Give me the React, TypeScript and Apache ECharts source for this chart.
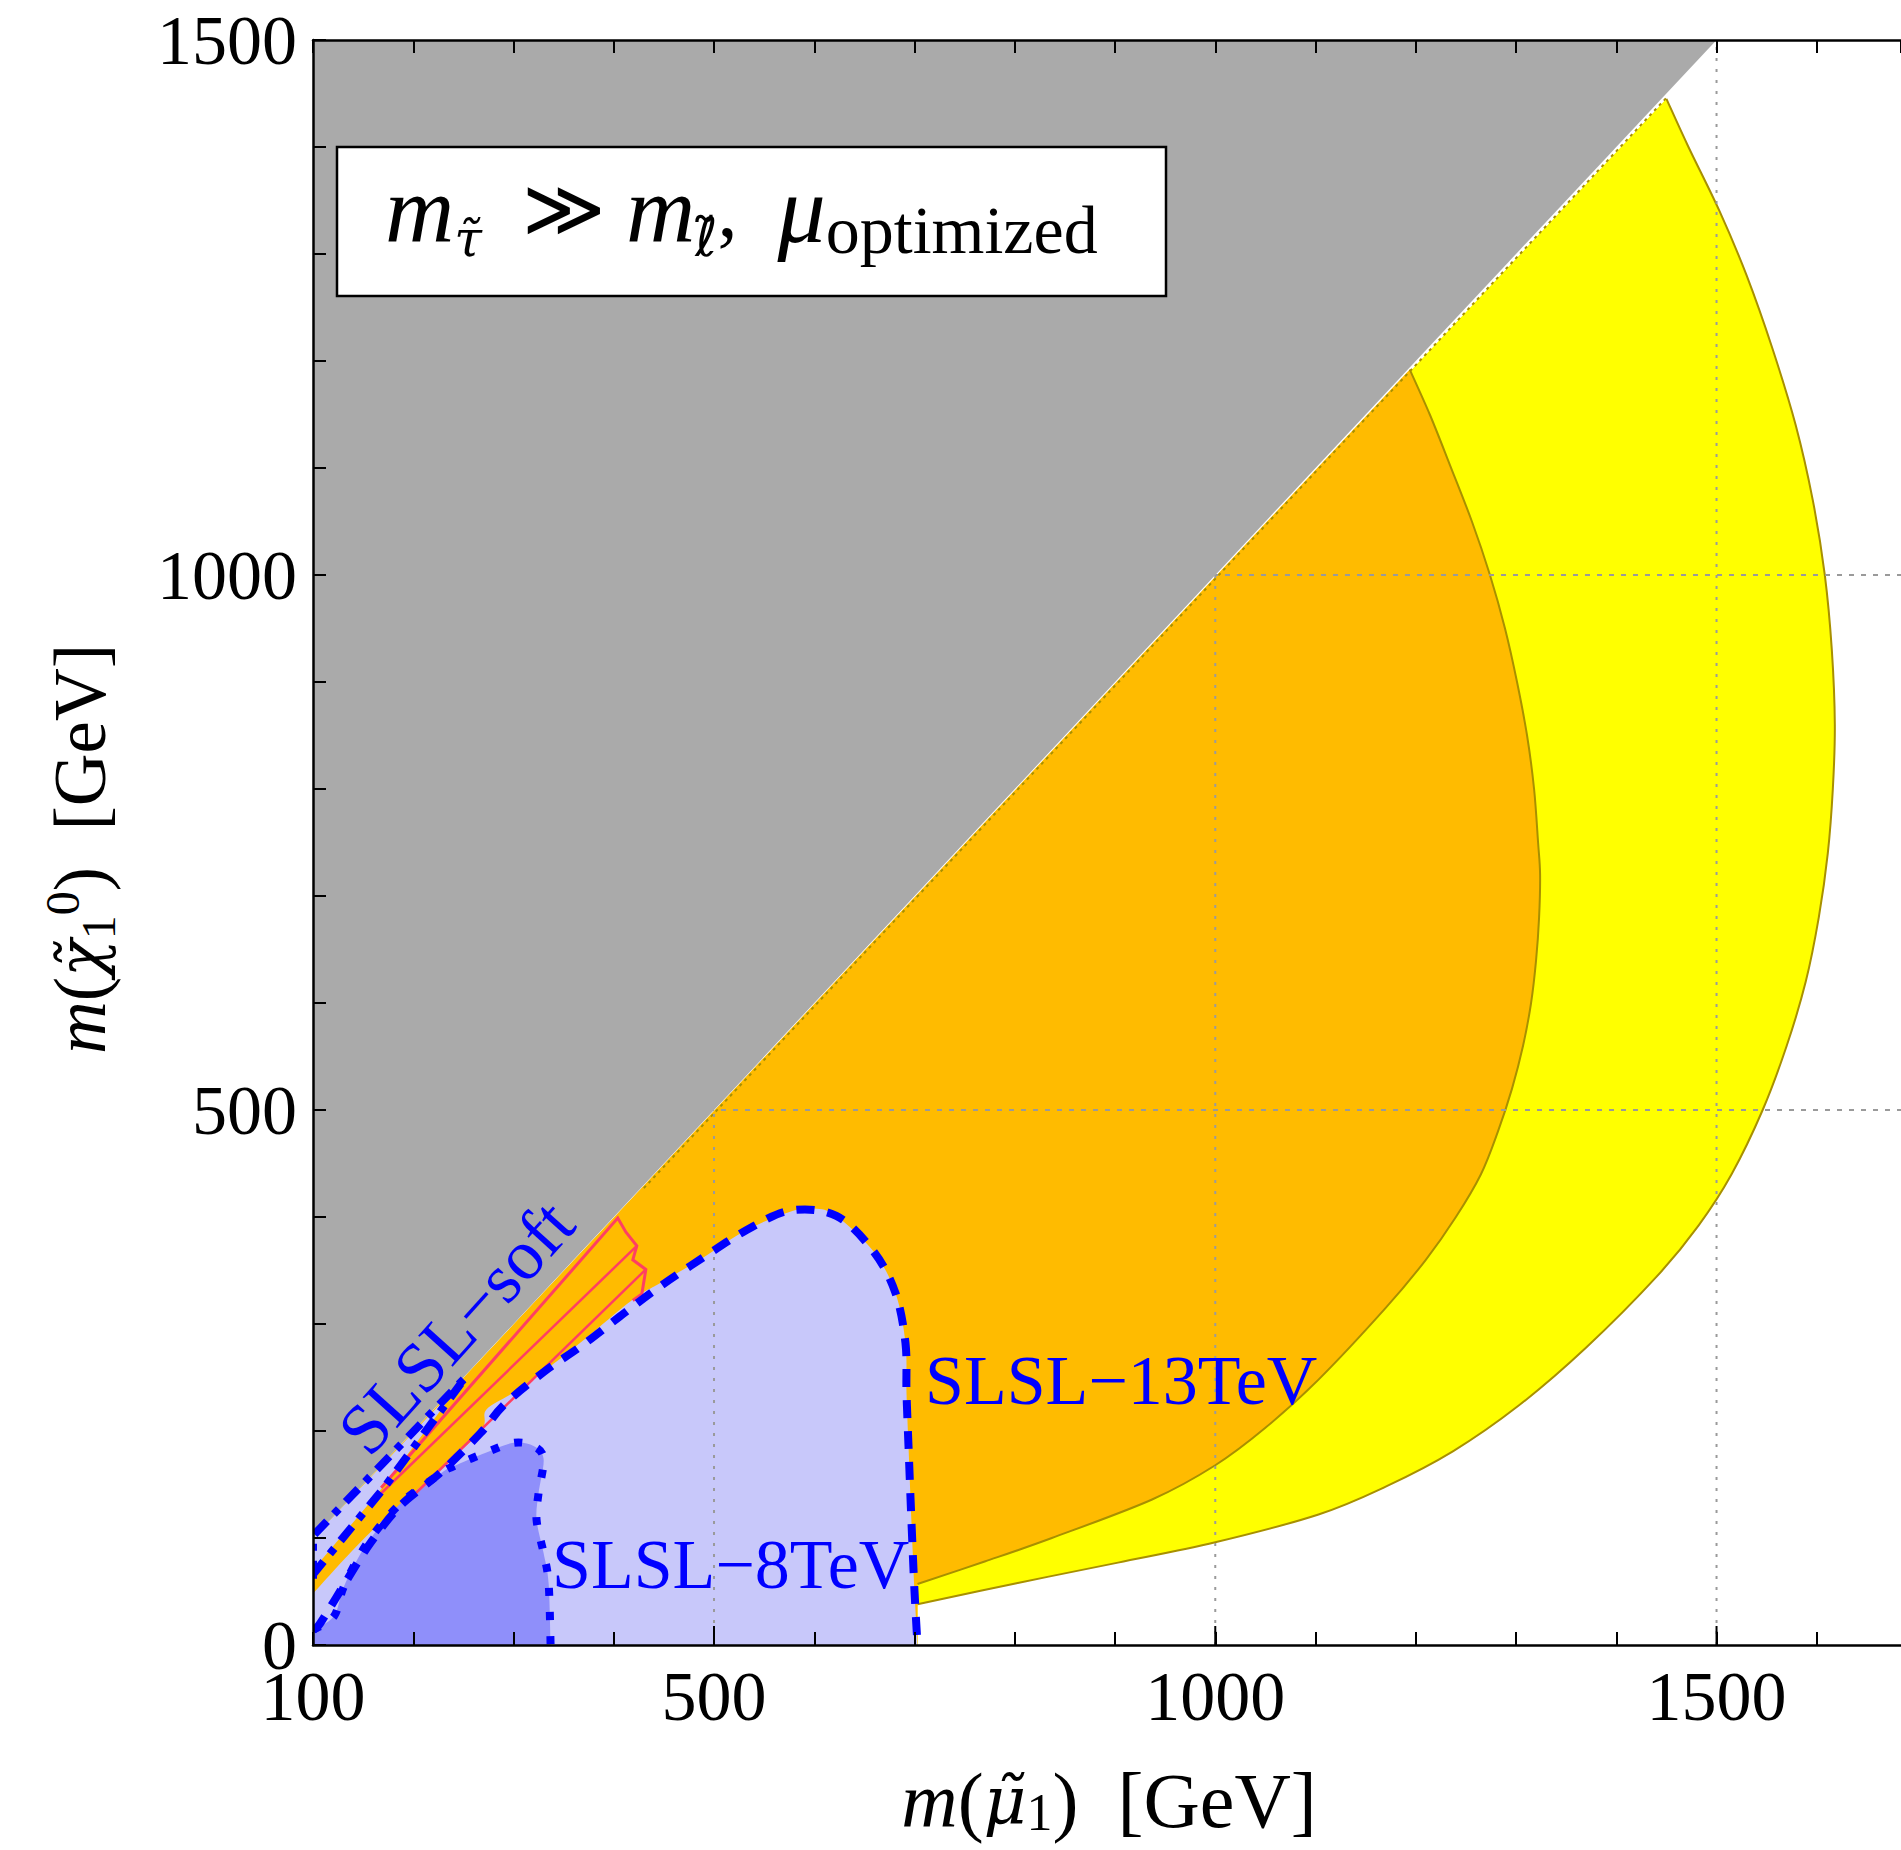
import React, { useEffect, useRef } from "react";
import * as echarts from "echarts";

const FONT = "'Liberation Serif', 'Times New Roman', serif";
const GREEK = "'DejaVu Serif', serif";
const SCRIPT = "'DejaVu Sans', sans-serif";

// axes
const X_MIN = 100;
const X_MAX = 1684;
const Y_MIN = 0;
const Y_MAX = 1500;
const TICK_STEP = 100;
const X_LABELS = [100, 500, 1000, 1500];
const Y_LABELS = [0, 500, 1000, 1500];
const GRID_X = [500, 1000, 1500];
const GRID_Y = [500, 1000];

// kinematically forbidden region m(chi) > m(smuon)
const GRAY_REGION = [[100, 100], [1500, 1500], [100, 1500]];

// outer edge of the yellow band (from diagonal down to the 13 TeV contour)
const YELLOW_ARC = [
  [1450, 1445], [1472, 1400], [1503, 1340], [1530, 1280], [1556, 1211], [1579, 1140],
  [1596, 1070], [1608, 1000], [1615, 930], [1618, 860], [1616, 800], [1611, 740],
  [1602, 680], [1589, 620], [1570, 560], [1546, 500], [1515, 440], [1482, 392],
  [1440, 344], [1370, 278], [1303, 224], [1237, 181], [1170, 148], [1103, 122],
  [1000, 96], [903, 77], [803, 58], [703, 38],
];

// outer edge of the orange band
const ORANGE_ARC = [
  [1194, 1192], [1214, 1150], [1234, 1103], [1256, 1050], [1274, 1000], [1289, 950],
  [1301, 900], [1311, 850], [1318, 800], [1322, 750], [1324, 720], [1323, 680],
  [1320, 640], [1315, 600], [1307, 560], [1296, 520], [1282, 480], [1265, 440],
  [1240, 400], [1210, 360], [1170, 315], [1103, 248], [1050, 203], [1000, 168],
  [937, 136], [837, 100], [770, 78], [703, 57],
];

// SLSL-13TeV excluded region (upper boundary)
const SLSL13_EDGE = [
  [100, 48], [137, 86], [170, 117], [197, 139], [230, 167], [268, 201], [273, 220],
  [300, 236], [336, 260], [370, 285], [419, 323], [446, 338], [489, 362], [533, 388],
  [576, 405], [600, 408], [622, 401], [659, 368], [681, 329], [691, 282], [692, 236],
  [694, 186], [697, 114], [700, 50], [703, 0],
];
const SLSL13_LINE = [
  [100, 15], [107, 20], [134, 61], [157, 95], [187, 130], [227, 161], [267, 198],
  [290, 224], [330, 255], [367, 279], [406, 307], [446, 335], [489, 362], [533, 388],
  [576, 406], [622, 401], [659, 368], [681, 329], [691, 282], [692, 236], [694, 186],
  [697, 114], [700, 50], [703, 0],
];

// SLSL-8TeV excluded region
const SLSL8_EDGE = [
  [100, 14], [121, 27], [131, 55], [154, 95], [187, 132], [227, 160], [240, 167],
  [273, 180], [300, 189], [320, 186], [330, 174], [325, 142], [323, 117], [330, 86],
  [335, 58], [337, 0],
];

// SLSL-soft excluded region (compressed strip near the diagonal)
const SOFT_REGION = [[100, 70], [100, 100], [252, 250], [170, 148]];
const SOFT_LINE = [[100, 62], [100, 102], [252, 250], [170, 146], [100, 66]];

// red hatched strip
const RED_OUTLINE = [
  [168, 147], [404, 399], [412, 386], [423, 373], [419, 360], [432, 351], [428, 328], [419, 322],
];
const RED_MID = [[165, 139], [423, 373]];
const RED_LOW = [[196, 136], [432, 351]];

// diagonal staircase edge of the bands
const BAND_DIAGONAL = [[430, 427], [1450, 1446]];

const C = {
  gray: "#aaaaaa",
  yellow: "#ffff00",
  orange: "#ffbb00",
  olive: "#a89000",
  light: "#c8c8fa",
  dark: "#8f8ffa",
  blue: "#0000ff",
  red: "#ff3f62",
  grid: "#9a9a9a",
};

type Seg = { pts: number[][]; smooth?: boolean };

function catmull(px: number[][]): string {
  let d = "";
  for (let i = 0; i < px.length - 1; i++) {
    const p0 = px[Math.max(i - 1, 0)];
    const p1 = px[i];
    const p2 = px[i + 1];
    const p3 = px[Math.min(i + 2, px.length - 1)];
    const c1x = p1[0] + (p2[0] - p0[0]) / 6;
    const c1y = p1[1] + (p2[1] - p0[1]) / 6;
    const c2x = p2[0] - (p3[0] - p1[0]) / 6;
    const c2y = p2[1] - (p3[1] - p1[1]) / 6;
    d += ` C ${c1x} ${c1y} ${c2x} ${c2y} ${p2[0]} ${p2[1]}`;
  }
  return d;
}

function buildPath(api: any, segs: Seg[], closed: boolean): string {
  let d = "";
  let first = true;
  for (const seg of segs) {
    const px = seg.pts.map((p) => api.coord(p));
    d += first ? `M ${px[0][0]} ${px[0][1]}` : ` L ${px[0][0]} ${px[0][1]}`;
    first = false;
    if (seg.smooth) d += catmull(px);
    else for (let i = 1; i < px.length; i++) d += ` L ${px[i][0]} ${px[i][1]}`;
  }
  if (closed) d += " Z";
  return d;
}

function pathSeries(name: string, segs: Seg[], style: any, closed: boolean) {
  return {
    type: "custom",
    name,
    silent: true,
    clip: true,
    coordinateSystem: "cartesian2d",
    data: [[segs[0].pts[0][0], segs[0].pts[0][1]]],
    renderItem: (_p: any, api: any) => ({
      type: "path",
      shape: { pathData: buildPath(api, segs, closed) },
      style: closed ? style : { fill: "none", ...style },
    }),
  };
}

export default function App() {
  const ref = useRef<HTMLDivElement>(null);
  useEffect(() => {
    const chart = echarts.init(ref.current!, null, { renderer: "svg" });
    const axisCommon = {
      type: "value",
      z: 10,
      axisLine: { show: true, onZero: false, lineStyle: { color: "#000", width: 2.5 } },
      axisTick: { show: true, inside: true, length: 13, lineStyle: { color: "#000", width: 2 } },
      splitLine: { show: false },
    };
    const option: any = {
      animation: false,
      backgroundColor: "#ffffff",
      grid: { left: 313, top: 40, right: 0, bottom: 205, containLabel: false },
      xAxis: [
        {
          ...axisCommon,
          min: X_MIN,
          max: X_MAX,
          interval: TICK_STEP,
          position: "bottom",
          axisLabel: {
            show: true,
            margin: 26,
            color: "#000",
            fontFamily: FONT,
            fontSize: 70,
            lineHeight: 50,
            showMinLabel: true,
            showMaxLabel: false,
            formatter: (v: number) => (X_LABELS.includes(Math.round(v)) ? String(Math.round(v)) : ""),
          },
        },
        {
          ...axisCommon,
          min: X_MIN,
          max: X_MAX,
          interval: TICK_STEP,
          position: "top",
          axisLabel: { show: false },
        },
      ],
      yAxis: [
        {
          ...axisCommon,
          min: Y_MIN,
          max: Y_MAX,
          interval: TICK_STEP,
          position: "left",
          axisLabel: {
            show: true,
            margin: 16,
            color: "#000",
            fontFamily: FONT,
            fontSize: 70,
            lineHeight: 50,
            formatter: (v: number) => (Y_LABELS.includes(Math.round(v)) ? String(Math.round(v)) : ""),
          },
        },
      ],
      series: [
        pathSeries("yellow", [{ pts: [[100, 100]] }, { pts: YELLOW_ARC, smooth: true }, { pts: [[703, 0], [100, 0]] }], { fill: C.yellow }, true),
        pathSeries("orange", [{ pts: [[100, 100]] }, { pts: ORANGE_ARC, smooth: true }, { pts: [[703, 0], [100, 0]] }], { fill: C.orange }, true),
        pathSeries("yellowEdge", [{ pts: YELLOW_ARC, smooth: true }], { stroke: C.olive, lineWidth: 2 }, false),
        pathSeries("orangeEdge", [{ pts: ORANGE_ARC, smooth: true }], { stroke: C.olive, lineWidth: 2 }, false),
        pathSeries("diagEdge", [{ pts: BAND_DIAGONAL }], { stroke: C.olive, lineWidth: 2, lineDash: [3, 4] }, false),
        pathSeries("slsl13", [{ pts: [[100, 0]] }, { pts: SLSL13_EDGE, smooth: true }], { fill: C.light }, true),
        pathSeries("soft", [{ pts: SOFT_REGION }], { fill: C.light }, true),
        pathSeries("slsl8", [{ pts: [[100, 0]] }, { pts: SLSL8_EDGE, smooth: true }], { fill: C.dark }, true),
        pathSeries("redOutline", [{ pts: RED_OUTLINE }], { stroke: C.red, lineWidth: 3 }, false),
        pathSeries("redMid", [{ pts: RED_MID }], { stroke: C.red, lineWidth: 2.5 }, false),
        pathSeries("redLow", [{ pts: RED_LOW }], { stroke: C.red, lineWidth: 2.5 }, false),
        {
          type: "custom",
          name: "gridlines",
          silent: true,
          clip: true,
          coordinateSystem: "cartesian2d",
          data: [[X_MIN, Y_MIN]],
          renderItem: (_p: any, api: any) => ({
            type: "group",
            children: [
              ...GRID_X.map((x) => {
                const a = api.coord([x, Y_MIN]);
                const b = api.coord([x, Y_MAX]);
                return {
                  type: "line",
                  shape: { x1: a[0], y1: a[1], x2: b[0], y2: b[1] },
                  style: { stroke: C.grid, lineWidth: 2, lineDash: [3, 8] },
                };
              }),
              ...GRID_Y.map((y) => {
                const a = api.coord([X_MIN, y]);
                const b = api.coord([X_MAX, y]);
                return {
                  type: "line",
                  shape: { x1: a[0], y1: a[1], x2: b[0], y2: b[1] },
                  style: { stroke: C.grid, lineWidth: 2, lineDash: [5, 7] },
                };
              }),
            ],
          }),
        },
        pathSeries("gray", [{ pts: GRAY_REGION }], { fill: C.gray }, true),
        pathSeries("slsl13Line", [{ pts: SLSL13_LINE, smooth: true }], { stroke: C.blue, lineWidth: 8, lineDash: [18, 13] }, false),
        pathSeries("slsl8Line", [{ pts: SLSL8_EDGE, smooth: true }], { stroke: C.blue, lineWidth: 8, lineDash: [8, 16] }, false),
        pathSeries("softLine", [{ pts: SOFT_LINE }], { stroke: C.blue, lineWidth: 8, lineDash: [18, 10, 7, 10] }, false),
        {
          type: "custom",
          name: "majorTicks",
          silent: true,
          clip: false,
          z: 11,
          coordinateSystem: "cartesian2d",
          data: [[X_MIN, Y_MIN]],
          renderItem: (_p: any, api: any) => ({
            type: "group",
            children: GRID_X.map((x) => {
              const a = api.coord([x, Y_MIN]);
              return {
                type: "line",
                shape: { x1: a[0], y1: a[1], x2: a[0], y2: a[1] - 19 },
                style: { stroke: "#000", lineWidth: 2 },
              };
            }),
          }),
        },
      ],
      graphic: [
        {
          type: "rect",
          shape: { x: 337, y: 147, width: 829, height: 149 },
          style: { fill: "#fff", stroke: "#000", lineWidth: 2.5 },
          z: 100,
        },
        {
          type: "text",
          x: 385,
          y: 209,
          z: 101,
          style: {
            text: "{m|m}{sub|τ̃}{op|  ≫ }{m|m}{scr|ℓ̃}{op|,  }{m|μ}{opt|optimized}",
            textVerticalAlign: "middle",
            rich: {
              m: { fontFamily: FONT, fontStyle: "italic", fontSize: 96, lineHeight: 110, fill: "#000" },
              op: { fontFamily: FONT, fontSize: 80, lineHeight: 110, fill: "#000" },
              sub: { fontFamily: GREEK, fontStyle: "italic", fontSize: 50, lineHeight: 70, verticalAlign: "bottom", fill: "#000" },
              scr: { fontFamily: SCRIPT, fontSize: 54, lineHeight: 72, verticalAlign: "bottom", fill: "#000" },
              opt: { fontFamily: FONT, fontSize: 68, lineHeight: 84, verticalAlign: "bottom", fill: "#000" },
            },
          },
        },
        {
          type: "text",
          x: 1109,
          y: 1800,
          z: 101,
          style: {
            text: "{i|m}{n|(}{g|μ̃}{s|1}{n|)  [GeV]}",
            textAlign: "center",
            textVerticalAlign: "middle",
            rich: {
              i: { fontFamily: FONT, fontStyle: "italic", fontSize: 78, lineHeight: 76, fill: "#000" },
              g: { fontFamily: GREEK, fontStyle: "italic", fontSize: 66, lineHeight: 76, fill: "#000" },
              n: { fontFamily: FONT, fontSize: 78, lineHeight: 76, fill: "#000" },
              s: { fontFamily: FONT, fontSize: 52, lineHeight: 56, verticalAlign: "bottom", fill: "#000" },
            },
          },
        },
        {
          type: "text",
          x: 80,
          y: 849,
          rotation: Math.PI / 2,
          z: 101,
          style: {
            text: "{i|m}{n|(}{g|χ̃}{s|1}{p|0}{n|)  [GeV]}",
            textAlign: "center",
            textVerticalAlign: "middle",
            rich: {
              i: { fontFamily: FONT, fontStyle: "italic", fontSize: 73, lineHeight: 84, fill: "#000" },
              g: { fontFamily: GREEK, fontStyle: "italic", fontSize: 62, lineHeight: 84, fill: "#000" },
              n: { fontFamily: FONT, fontSize: 73, lineHeight: 84, fill: "#000" },
              s: { fontFamily: FONT, fontSize: 48, lineHeight: 58, verticalAlign: "bottom", fill: "#000" },
              p: { fontFamily: FONT, fontSize: 48, lineHeight: 58, verticalAlign: "top", fill: "#000" },
            },
          },
        },
        {
          type: "text",
          x: 925,
          y: 1380,
          z: 101,
          style: { text: "SLSL−13TeV", fontFamily: FONT, fontSize: 70, fill: C.blue, textAlign: "left", textVerticalAlign: "middle" },
        },
        {
          type: "text",
          x: 552,
          y: 1564,
          z: 101,
          style: { text: "SLSL−8TeV", fontFamily: FONT, fontSize: 70, fill: C.blue, textAlign: "left", textVerticalAlign: "middle" },
        },
        {
          type: "text",
          x: 456,
          y: 1327,
          rotation: (48 * Math.PI) / 180,
          z: 101,
          style: { text: "SLSL−soft", fontFamily: FONT, fontSize: 71, fill: C.blue, textAlign: "center", textVerticalAlign: "middle" },
        },
      ],
    };
    chart.setOption(option);
    return () => chart.dispose();
  }, []);
  return (
    <div
      ref={ref}
      style={{ position: "absolute", left: 0, top: 0, width: 1901, height: 1850, background: "#fff" }}
    />
  );
}
